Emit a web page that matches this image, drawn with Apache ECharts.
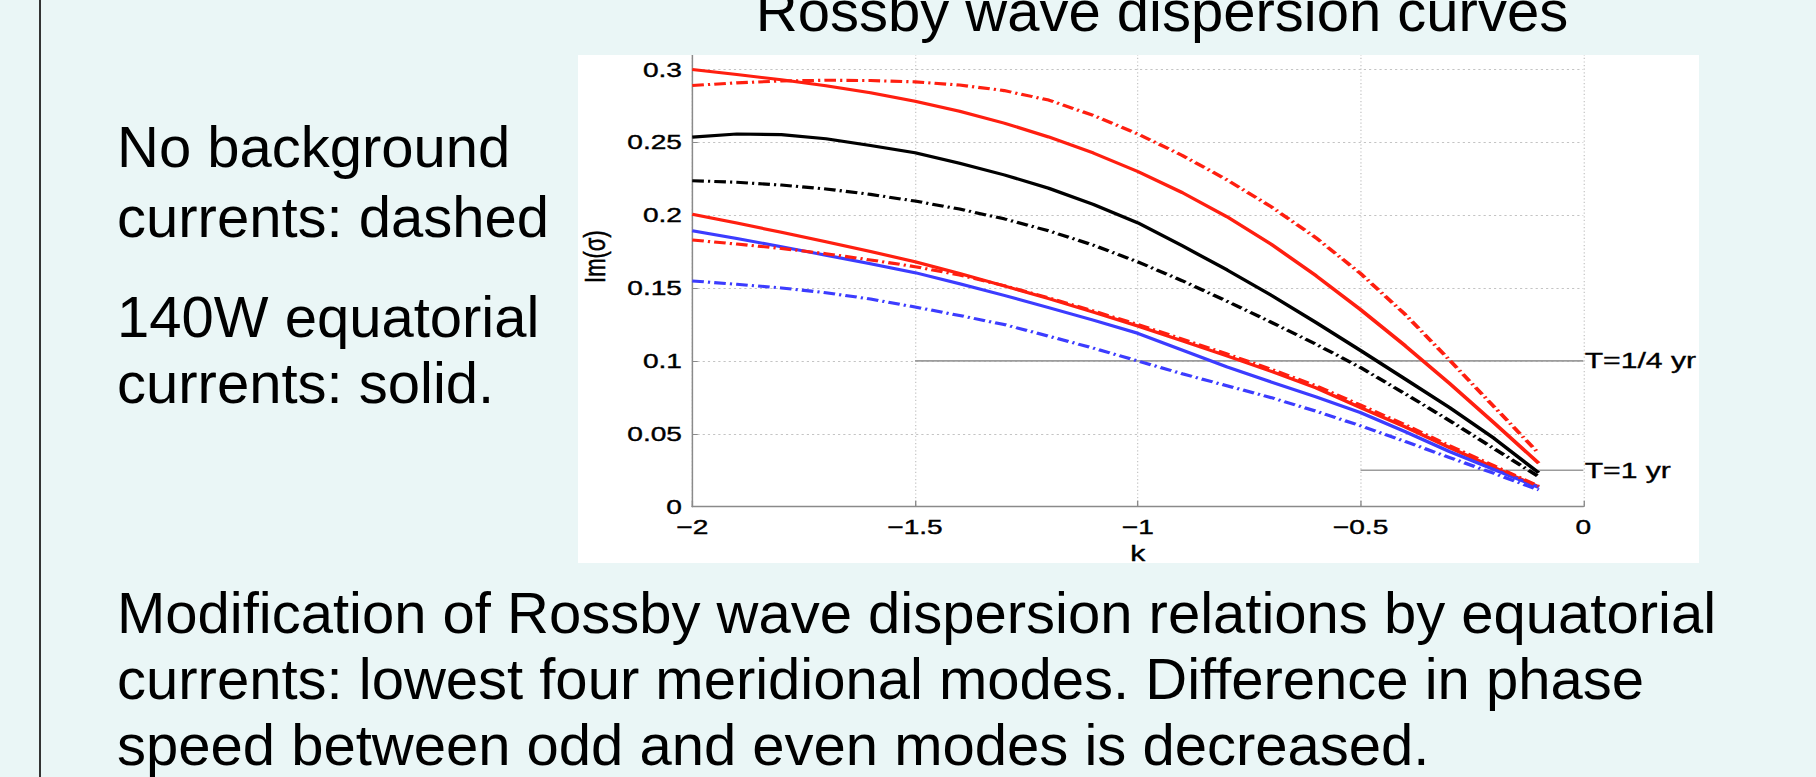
<!DOCTYPE html>
<html>
<head>
<meta charset="utf-8">
<title>Rossby wave dispersion curves</title>
<script src="https://cdn.jsdelivr.net/npm/echarts@6/dist/echarts.min.js"></script>
<style>
  html, body {
    margin: 0; padding: 0;
    width: 1816px; height: 777px; overflow: hidden;
    background: #eaf6f6;
    font-family: "Liberation Sans", Arial, Helvetica, sans-serif;
  }
  .rule { position: absolute; left: 39px; top: 0; width: 2px; height: 777px; background: #333; }
  .t { position: absolute; font-size: 58px; line-height: 58px; white-space: nowrap; color: #000; }
  #paper { position: absolute; left: 578px; top: 55px; width: 1121px; height: 508px; background: #fff; }
  /* cuts the axes off at the top edge of the white figure panel */
  #clip { position: absolute; left: 578px; top: 55px; width: 1180px; height: 560px; overflow: hidden; }
  /* the figure is drawn narrow and widened, as the pasted plot is */
  #chart { position: absolute; left: 0; top: -70px; width: 840px; height: 598px; transform: scaleX(1.37); transform-origin: 0 0; }
</style>
</head>
<body>
<div class="rule"></div>

<div class="t" style="left:562px; width:1200px; text-align:center; top:-18px;">Rossby wave dispersion curves</div>

<div class="t" style="left:117px; top:118px;">No background</div>
<div class="t" style="left:117px; top:188px;">currents: dashed</div>
<div class="t" style="left:117px; top:288px;">140W equatorial</div>
<div class="t" style="left:117px; top:354px;">currents: solid.</div>

<div class="t" style="left:117px; top:584px;">Modification of Rossby wave dispersion relations by equatorial</div>
<div class="t" style="left:117px; top:650px;">currents: lowest four meridional modes. Difference in phase</div>
<div class="t" style="left:117px; top:716px;">speed between odd and even modes is decreased.</div>

<div id="paper"></div>
<div id="clip"><div id="chart"></div></div>

<script>
// zonal wavenumber k
const kValues = [-2.0, -1.9, -1.8, -1.7, -1.6, -1.5, -1.4, -1.3, -1.2, -1.1,
                 -1.0, -0.9, -0.8, -0.7, -0.6, -0.5, -0.4, -0.3, -0.2, -0.1];

// Im(sigma) for the four lowest meridional modes
// solid: with 140W equatorial currents, dash-dot: no background currents
const mode1Currents   = [0.3000, 0.2966, 0.2929, 0.2888, 0.2840, 0.2782, 0.2713, 0.2632, 0.2537, 0.2427,
                         0.2300, 0.2155, 0.1990, 0.1800, 0.1585, 0.1352, 0.1105, 0.0845, 0.0575, 0.0298];
const mode1NoCurrents = [0.2890, 0.2908, 0.2921, 0.2926, 0.2924, 0.2915, 0.2893, 0.2855, 0.2790, 0.2685,
                         0.2558, 0.2410, 0.2243, 0.2057, 0.1845, 0.1600, 0.1320, 0.1005, 0.0685, 0.0366];
const mode2Currents   = [0.2536, 0.2557, 0.2553, 0.2525, 0.2478, 0.2428, 0.2356, 0.2277, 0.2185, 0.2075,
                         0.1948, 0.1790, 0.1625, 0.1450, 0.1264, 0.1072, 0.0876, 0.0680, 0.0468, 0.0233];
const mode2NoCurrents = [0.2237, 0.2226, 0.2207, 0.2180, 0.2143, 0.2097, 0.2042, 0.1975, 0.1893, 0.1795,
                         0.1680, 0.1550, 0.1410, 0.1265, 0.1115, 0.0955, 0.0775, 0.0590, 0.0398, 0.0206];
const mode3Currents   = [0.2006, 0.1946, 0.1883, 0.1818, 0.1751, 0.1681, 0.1600, 0.1515, 0.1428, 0.1335,
                         0.1240, 0.1138, 0.1035, 0.0928, 0.0815, 0.0680, 0.0548, 0.0405, 0.0268, 0.0137];
const mode3NoCurrents = [0.1830, 0.1802, 0.1772, 0.1736, 0.1693, 0.1647, 0.1590, 0.1517, 0.1433, 0.1343,
                         0.1250, 0.1150, 0.1048, 0.0942, 0.0830, 0.0697, 0.0562, 0.0418, 0.0280, 0.0140];
const mode4Currents   = [0.1894, 0.1840, 0.1784, 0.1726, 0.1667, 0.1606, 0.1530, 0.1450, 0.1366, 0.1280,
                         0.1190, 0.1075, 0.0960, 0.0855, 0.0754, 0.0645, 0.0515, 0.0378, 0.0255, 0.0133];
const mode4NoCurrents = [0.1549, 0.1526, 0.1501, 0.1468, 0.1425, 0.1370, 0.1312, 0.1250, 0.1170, 0.1088,
                         0.1000, 0.0912, 0.0830, 0.0748, 0.0655, 0.0555, 0.0448, 0.0337, 0.0228, 0.0115];

// reference periods
const quarterYearK = [-1.5, 0];
const quarterYearSigma = [0.1, 0.1];
const oneYearK = [-0.5, 0];
const oneYearSigma = [0.025, 0.025];
const periodLabels = ['T=1/4 yr', 'T=1 yr'];

const FONT = '"Liberation Sans", Arial, Helvetica, sans-serif';
const RED = '#ff1f10', BLACK = '#000000', BLUE = '#3c3cff';
const AXIS_GREY = '#8a8a8a';
const DASH_DOT = [8.5, 3, 1.6, 3];

const pairs = (xs, ys) => xs.map((x, i) => [x, ys[i]]);

function curve(name, ys, color, dashed) {
  return {
    name, type: 'line', data: pairs(kValues, ys),
    symbol: 'none', showSymbol: false, smooth: false,
    silent: true, z: dashed ? 4 : 3,
    lineStyle: { color, width: 3.1, type: dashed ? DASH_DOT : 'solid', cap: 'butt', join: 'round' }
  };
}

function periodLine(xs, ys, text) {
  return {
    type: 'line', data: pairs(xs, ys), symbol: 'none', showSymbol: false,
    silent: true, z: 2,
    lineStyle: { color: '#9c9c9c', width: 1.7 },
    endLabel: {
      show: true, formatter: text, distance: 1, fontSize: 22, color: '#000', fontFamily: FONT,
      textBorderColor: '#000', textBorderWidth: 0.35
    }
  };
}

const tickText = { fontSize: 20.5, color: '#000', fontFamily: FONT, textBorderColor: '#000', textBorderWidth: 0.4 };

const chart = echarts.init(document.getElementById('chart'), null, { renderer: 'svg' });

chart.setOption({
  animation: false,
  backgroundColor: 'transparent',
  grid: { left: 83.4, right: 106.2, top: 11.6, bottom: 76.3, outerBoundsMode: 'none', containLabel: false },
  xAxis: {
    type: 'value', min: -2, max: 0, interval: 0.5,
    name: 'k', nameLocation: 'middle', nameGap: 30,
    nameTextStyle: { fontSize: 22, color: '#000', fontFamily: FONT, textBorderColor: '#000', textBorderWidth: 0.4 },
    axisLine: { onZero: false, lineStyle: { color: AXIS_GREY, width: 1.3 } },
    axisTick: { inside: true, length: 6, lineStyle: { color: AXIS_GREY, width: 1 } },
    axisLabel: Object.assign({ margin: 9.5, formatter: v => String(v).replace('-', '\u2212') }, tickText),
    splitLine: { show: true, lineStyle: { color: '#c4c4c4', width: 0.9, type: [1.2, 2.4] } }
  },
  yAxis: {
    type: 'value', min: 0, max: 0.35, interval: 0.05,
    name: 'Im(\u03c3)', nameLocation: 'middle', nameGap: 60,
    nameTextStyle: {
      fontSize: 22, color: '#000', fontFamily: FONT, padding: [0, 10, 0, 0],
      textBorderColor: '#000', textBorderWidth: 0.4
    },
    axisLine: { show: true, onZero: false, lineStyle: { color: AXIS_GREY, width: 1.1 } },
    axisTick: { show: true, inside: true, length: 4, lineStyle: { color: AXIS_GREY, width: 1 } },
    axisLabel: Object.assign({ margin: 7.5, showMaxLabel: false }, tickText),
    splitLine: { show: true, lineStyle: { color: '#c4c4c4', width: 1, type: [1.6, 2.2] } }
  },
  series: [
    periodLine(quarterYearK, quarterYearSigma, periodLabels[0]),
    periodLine(oneYearK, oneYearSigma, periodLabels[1]),
    curve('mode 1, currents', mode1Currents, RED, false),
    curve('mode 2, currents', mode2Currents, BLACK, false),
    curve('mode 3, currents', mode3Currents, RED, false),
    curve('mode 4, currents', mode4Currents, BLUE, false),
    curve('mode 1, no currents', mode1NoCurrents, RED, true),
    curve('mode 2, no currents', mode2NoCurrents, BLACK, true),
    curve('mode 4, no currents', mode4NoCurrents, BLUE, true),
    curve('mode 3, no currents', mode3NoCurrents, RED, true)
  ]
});
</script>
</body>
</html>
